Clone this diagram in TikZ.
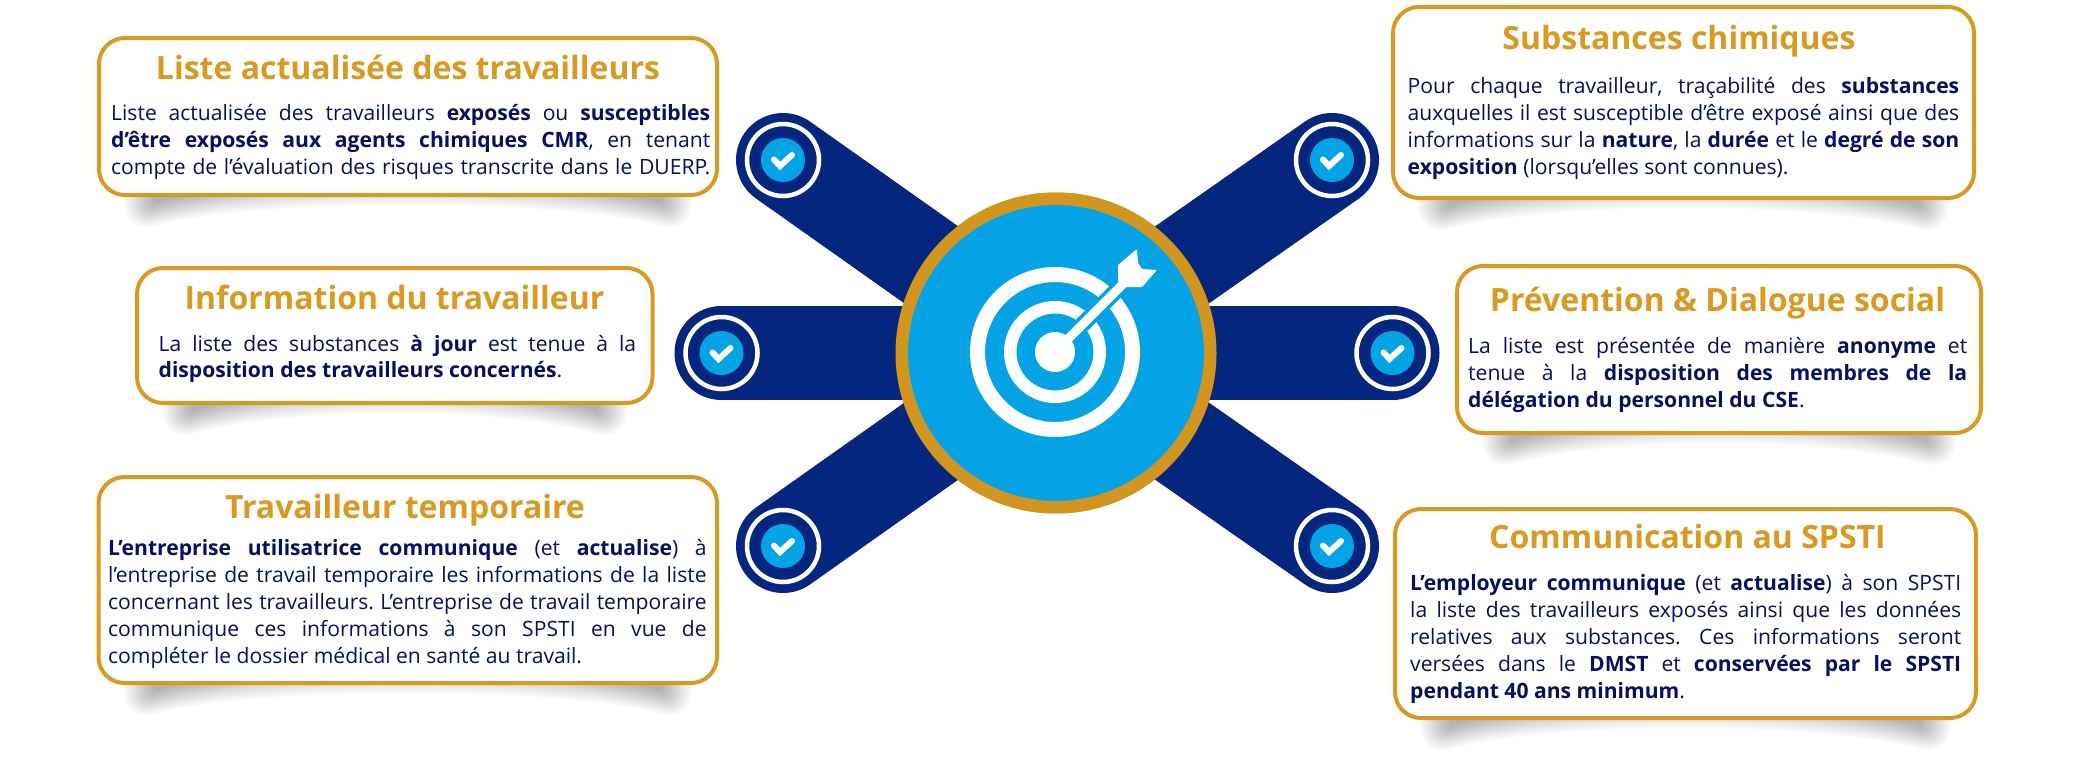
\documentclass[tikz,border=0pt]{standalone}
\usepackage{fontspec}
\setmainfont{Open Sans}
\definecolor{navy}{HTML}{05267F}
\definecolor{sky}{HTML}{03A3E6}
\definecolor{hubgold}{HTML}{D2951F}
\definecolor{gold}{HTML}{D99A22}
\definecolor{ink}{HTML}{050F63}
\tikzset{
  cardbox/.style={draw=gold,line width=4pt,fill=white,rounded corners=26pt,inner sep=0pt,outer sep=0pt},
  cardtitle/.style={anchor=base,inner sep=0pt,text=gold,font=\fontsize{32}{36}\selectfont\bfseries},
  cardbody/.style={anchor=base west,inner sep=0pt,text=ink,font=\fontsize{21.1}{27}\selectfont\frenchspacing},
  arm/.style={line width=94pt,line cap=round,navy},
  hubdisc/.style={circle,draw=hubgold,line width=12.5pt,fill=sky,minimum size=308.5pt,inner sep=0pt,outer sep=0pt},
  iconring/.style={circle,draw=white,line width=4.5pt,fill=navy,minimum size=72pt,inner sep=0pt,outer sep=0pt},
  icondot/.style={circle,fill=sky,minimum size=44pt,inner sep=0pt,outer sep=0pt},
  tick/.style={white,line width=6pt,line cap=round,line join=miter},
}
\newlength{\textw}
\newcommand{\J}[1]{\hbox to \textw{\spaceskip=.26em plus 3em minus .16em\relax #1}}
\newcommand{\E}[1]{\hbox{\spaceskip=.26em\relax #1}}
\newcommand{\B}[1]{\textbf{#1}}
% shadow: L, R, bottom
\newcommand{\curveshadow}[3]{%
  \foreach \w in {1,3,...,31}{
    \fill[black,opacity=.021,rounded corners={\w pt}]
      ({#1+58-\w},{#3-30}) -- ({#2-58+\w},{#3-30}) -- ({#2-58+\w},{#3+6+\w})
      .. controls ({#2-165},{#3-30+\w}) and ({#1+165},{#3-30+\w}) .. ({#1+58-\w},{#3+6+\w}) -- cycle;
  }%
}
\newcommand{\card}[9]{%
  \curveshadow{#2}{#4}{#5}
  \node[cardbox,minimum width={#4-#2-4},minimum height={#5-#3-4}] (#1) at ({(#2+#4)/2},{(#3+#5)/2}) {};
  \node[cardtitle] (#1t) at (#6,#7) {#8};
  #9
}
\newcommand{\checkicon}[3]{%
  \node[iconring] (#1) at (#2,#3) {};
  \node[icondot] (#1d) at (#2,#3) {};
  \draw[tick] ({#2-9},{#3-0.5}) -- ({#2-3},{#3+6}) -- ({#2+9},{#3-5});
}
\begin{document}
\begin{tikzpicture}[x=1pt,y=-1pt]
\useasboundingbox[fill=white] (0,0) rectangle (2079,756);

% hub and arms
\node[hubdisc] (hub) at (1056,353) {};
\coordinate (a1) at (783,160);
\coordinate (a2) at (1332,160);
\coordinate (a3) at (721.5,353);
\coordinate (a4) at (1392.5,353);
\coordinate (a5) at (783,546);
\coordinate (a6) at (1332,546);
\foreach \a in {a1,a2,a3,a4,a5,a6}{\draw[arm] (\a) -- (hub.center);}
\node[hubdisc] (hubtop) at (1056,353) {};
\checkicon{i1}{783}{160}
\checkicon{i2}{1332}{160}
\checkicon{i3}{721.5}{353}
\checkicon{i4}{1392.5}{353}
\checkicon{i5}{783}{546}
\checkicon{i6}{1332}{546}

% target
\draw[white,line width=15pt] (1055,352) circle (77.5);
\draw[white,line width=12.5pt] (1055,352) circle (44.75);
\draw[sky,line width=16pt] (1071,336) -- (1130,277);
\fill[white] (1055,352) circle (20);
\draw[white,line width=9pt] (1055,352) -- (1130,277);
\fill[white,rounded corners=1pt] (1118,265) -- (1137,249) -- (1138,263) -- (1142,269) -- (1157,270) -- (1142,287) -- (1124,287) -- (1118,282) -- cycle;

% cards
\card{c1}{97}{36}{719}{197}{408}{79}{Liste actualisée des travailleurs}{%
  \setlength{\textw}{599pt}%
  \node[cardbody] (c1b) at (111,120) {\vtop{\lineskiplimit=-100pt\baselineskip=27pt
    \J{Liste actualisée des travailleurs \B{exposés} ou \B{susceptibles}}
    \J{\B{d’être exposés aux agents chimiques CMR}, en tenant}
    \J{compte de l’évaluation des risques transcrite dans le DUERP.}}};}
\card{c2}{135}{266}{654.5}{405}{394.5}{309}{Information du travailleur}{%
  \setlength{\textw}{477.5pt}%
  \node[cardbody] (c2b) at (158.5,351) {\vtop{\lineskiplimit=-100pt\baselineskip=26.5pt
    \J{La liste des substances \B{à jour} est tenue à la}
    \E{\B{disposition des travailleurs concernés}.}}};}
\card{c3}{96.5}{475}{719}{685}{405}{518}{Travailleur temporaire}{%
  \setlength{\textw}{598.5pt}%
  \node[cardbody] (c3b) at (108,555) {\vtop{\lineskiplimit=-100pt\baselineskip=27pt
    \J{\B{L’entreprise utilisatrice communique} (et \B{actualise}) à}
    \J{l’entreprise de travail temporaire les informations de la liste}
    \J{concernant les travailleurs. L’entreprise de travail temporaire}
    \J{communique ces informations à son SPSTI en vue de}
    \E{compléter le dossier médical en santé au travail.}}};}
\card{c4}{1391}{5}{1976}{200}{1679}{49}{Substances chimiques}{%
  \setlength{\textw}{551.5pt}%
  \node[cardbody] (c4b) at (1407.5,93) {\vtop{\lineskiplimit=-100pt\baselineskip=27pt
    \J{Pour chaque travailleur, traçabilité des \B{substances}}
    \J{auxquelles il est susceptible d’être exposé ainsi que des}
    \J{informations sur la \B{nature}, la \B{durée} et le \B{degré de son}}
    \E{\B{exposition} (lorsqu’elles sont connues).}}};}
\card{c5}{1455}{264}{1983}{435}{1717.5}{311}{Prévention \& Dialogue social}{%
  \setlength{\textw}{499pt}%
  \node[cardbody] (c5b) at (1468,353) {\vtop{\lineskiplimit=-100pt\baselineskip=27pt
    \J{La liste est présentée de manière \B{anonyme} et}
    \J{tenue à la \B{disposition des membres de la}}
    \E{\B{délégation du personnel du CSE}.}}};}
\card{c6}{1393}{507}{1978}{720}{1687.5}{548}{Communication au SPSTI}{%
  \setlength{\textw}{551pt}%
  \node[cardbody] (c6b) at (1410,590) {\vtop{\lineskiplimit=-100pt\baselineskip=27pt
    \J{\B{L’employeur communique} (et \B{actualise}) à son SPSTI}
    \J{la liste des travailleurs exposés ainsi que les données}
    \J{relatives aux substances. Ces informations seront}
    \J{versées dans le \B{DMST} et \B{conservées par le SPSTI}}
    \E{\B{pendant 40 ans minimum}.}}};}
\end{tikzpicture}
\end{document}
